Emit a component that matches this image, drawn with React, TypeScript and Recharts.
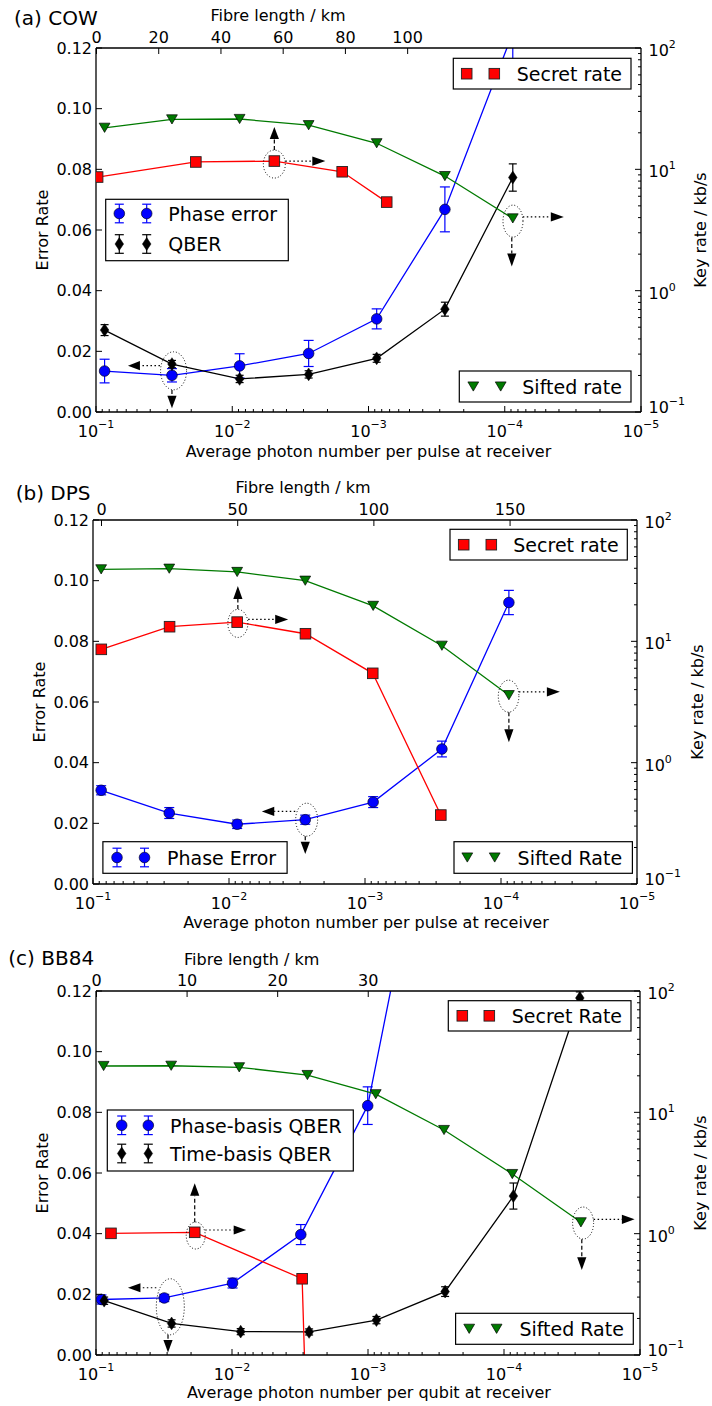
import React from 'react';
import { ComposedChart, Line, XAxis, YAxis, ErrorBar, ReferenceDot } from 'recharts';

const FONT = '"DejaVu Sans", Verdana, sans-serif';

// ---------- Panel (a) COW ----------
const cowMu = [0.0865, 0.0277, 0.00883, 0.00275, 0.000871, 0.000275, 0.0000873];
const cowPhase = [0.0135, 0.0121, 0.0152, 0.0193, 0.0307, 0.0668, 0.125];
const cowPhaseErr = [0.0039, 0.0022, 0.004, 0.0043, 0.0033, 0.0074, 0.012];
const cowQber = [0.027, 0.0158, 0.0109, 0.0124, 0.0177, 0.0339, 0.0773];
const cowQberErr = [0.0018, 0.0012, 0.0012, 0.0012, 0.0013, 0.0023, 0.0045];
const cowSifted = [22.0, 25.8, 26.0, 23.1, 16.4, 8.8, 3.94];
const cowSecretMu = [0.0973, 0.0185, 0.00491, 0.00156, 0.000735];
const cowSecret = [8.64, 11.5, 11.7, 9.55, 5.37];
const cowFibreTicks = [0, 20, 40, 60, 80, 100];

// ---------- Panel (b) DPS ----------
const dpsMu = [0.0871, 0.0275, 0.00871, 0.00275, 0.000871, 0.000272, 0.0000875];
const dpsPhase = [0.0309, 0.0234, 0.0197, 0.0212, 0.027, 0.0445, 0.0928];
const dpsPhaseErr = [0.0015, 0.0018, 0.0014, 0.0015, 0.0018, 0.0026, 0.004];
const dpsSifted = [39.2, 39.7, 37.3, 31.6, 19.6, 9.2, 3.6];
const dpsSecretMu = [0.0869, 0.02735, 0.00871, 0.00274, 0.000877, 0.000277];
const dpsSecret = [8.59, 13.2, 14.4, 11.55, 5.45, 0.37];
const dpsFibreTicks = [0, 50, 100, 150];

// ---------- Panel (c) BB84 ----------
const bbSiftedMu = [0.0879, 0.028, 0.00885, 0.00279, 0.000877, 0.000276, 0.0000869, 0.0000272];
const bbSifted = [24.1, 24.2, 23.5, 20.3, 14.1, 7.15, 3.1, 1.24];
const bbSecretMu = [0.0776, 0.0188, 0.00305, 0.00279];
const bbSecret = [1.006, 1.026, 0.425, 0.0151];
const bbPhaseMu = [0.0912, 0.0315, 0.00991, 0.00312, 0.001005, 0.000316];
const bbPhase = [0.0183, 0.0188, 0.0237, 0.0397, 0.0822, 0.195];
const bbPhaseErr = [0.0015, 0.0012, 0.0016, 0.0033, 0.0062, 0.01];
const bbTimeMu = [0.0871, 0.0278, 0.00863, 0.00271, 0.000867, 0.000271, 0.0000853, 0.0000277];
const bbTime = [0.0179, 0.0104, 0.0077, 0.0076, 0.0115, 0.0209, 0.0524, 0.1177];
const bbTimeErr = [0.0012, 0.0012, 0.001, 0.001, 0.0012, 0.0016, 0.0043, 0.002];
const bbFibreTicks = [0, 10, 20, 30];

// ---------- axes ----------
const errorTicks = [0, 0.02, 0.04, 0.06, 0.08, 0.1, 0.12];
const muDecades = [1e-5, 1e-4, 1e-3, 1e-2, 1e-1];
const rateDecades = [0.1, 1, 10, 100];
const minorMult = [2, 3, 4, 5, 6, 7, 8, 9];

const logTicks = (decades: number[]) => {
  const t: number[] = [];
  decades.forEach((d, i) => {
    t.push(d);
    if (i < decades.length - 1) minorMult.forEach((m) => t.push(m * d));
  });
  return t;
};
const muTicks = logTicks(muDecades);
const rateTicks = logTicks(rateDecades);

const isMajor = (v: number) => Math.abs(Math.log10(v) - Math.round(Math.log10(v))) < 1e-6;
const expStr = (v: number) => {
  const e = Math.round(Math.log10(v));
  return e < 0 ? '\u2212' + Math.abs(e) : String(e);
};

function BottomLogTick(props: any) {
  const { x, y, payload } = props;
  const v = payload.value;
  const major = isMajor(v);
  return (
    <g>
      <line x1={x} x2={x} y1={y} y2={y - (major ? 6 : 3)} stroke="#000" strokeWidth={1} />
      {major && (
        <text x={x} y={y + 24.7} textAnchor="middle" fontSize={16} fontFamily={FONT} fill="#000">
          10<tspan dy={-9} fontSize={11}>{expStr(v)}</tspan>
        </text>
      )}
    </g>
  );
}

function TopTick(props: any) {
  const { x, y, payload } = props;
  return (
    <g>
      <line x1={x} x2={x} y1={y} y2={y + 6} stroke="#000" strokeWidth={1} />
      <text x={x} y={y - 5.5} textAnchor="middle" fontSize={16} fontFamily={FONT} fill="#000">
        {payload.value}
      </text>
    </g>
  );
}

function LeftTick(props: any) {
  const { x, y, payload } = props;
  return (
    <g>
      <line x1={x} x2={x + 6} y1={y} y2={y} stroke="#000" strokeWidth={1} />
      <text x={x - 4} y={y + 5.8} textAnchor="end" fontSize={16} fontFamily={FONT} fill="#000">
        {Number(payload.value).toFixed(2)}
      </text>
    </g>
  );
}

function RightLogTick(props: any) {
  const { x, y, payload } = props;
  const v = payload.value;
  const major = isMajor(v);
  const base = Math.abs(v - 0.1) < 1e-9 ? y + 0.5 : y + 8;
  return (
    <g>
      <line x1={x} x2={x - (major ? 6 : 3)} y1={y} y2={y} stroke="#000" strokeWidth={1} />
      {major && (
        <text x={x + 7.5} y={base} textAnchor="start" fontSize={16} fontFamily={FONT} fill="#000">
          10<tspan dy={-8} fontSize={11}>{expStr(v)}</tspan>
        </text>
      )}
    </g>
  );
}

// ---------- markers ----------
type Kind = 'circle' | 'diamond' | 'square' | 'tri';
function Marker({ kind, cx, cy }: { kind: Kind; cx: number; cy: number }) {
  if (kind === 'circle')
    return <circle cx={cx} cy={cy} r={5.3} fill="#0000ff" stroke="#000022" strokeWidth={0.7} />;
  if (kind === 'diamond')
    return (
      <polygon
        points={`${cx},${cy - 6.4} ${cx + 4.3},${cy} ${cx},${cy + 6.4} ${cx - 4.3},${cy}`}
        fill="#000"
        stroke="#000"
        strokeWidth={0.5}
      />
    );
  if (kind === 'square')
    return (
      <rect x={cx - 5.3} y={cy - 5.3} width={10.6} height={10.6} fill="#ff0000" stroke="#222" strokeWidth={0.9} />
    );
  return (
    <polygon
      points={`${cx - 5.4},${cy - 4.6} ${cx + 5.4},${cy - 4.6} ${cx},${cy + 4.6}`}
      fill="#007a00"
      stroke="#000"
      strokeWidth={0.7}
    />
  );
}

const dotFn = (kind: Kind) => (p: any) => {
  if (p.cx == null || p.cy == null || isNaN(p.cx) || isNaN(p.cy)) return <g key={`e${p.index}`} />;
  return (
    <g key={`d${p.index}`}>
      <Marker kind={kind} cx={p.cx} cy={p.cy} />
    </g>
  );
};

const mk = (xs: number[], ys: number[], es?: number[]) =>
  xs.map((x, i) => ({ x, y: ys[i], e: es ? es[i] : 0 }));

type Series = { key: string; data: any[]; axis: 'L' | 'R'; color: string; kind: Kind; err?: boolean; cap?: number };
type Arrow = { p0: [number, number]; p1: [number, number]; tip: [number, number]; dash: string };
type Anno = { x: number; y: number; axis: 'L' | 'R'; ell: [number, number, number, number]; arrows: Arrow[] };

const DOT = '1.5,2.5';
const DASH = '4,2.5';

function AnnoShape({ cx, cy, a }: { cx: number; cy: number; a: Anno }) {
  const [ex, ey, rx, ry] = a.ell;
  return (
    <g>
      <ellipse cx={cx + ex} cy={cy + ey} rx={rx} ry={ry} fill="none" stroke="#000" strokeWidth={1} strokeDasharray="1,2" />
      {a.arrows.map((ar, i) => {
        const x0 = cx + ar.p0[0], y0 = cy + ar.p0[1];
        const x1 = cx + ar.p1[0], y1 = cy + ar.p1[1];
        const tx = cx + ar.tip[0], ty = cy + ar.tip[1];
        const dx = tx - x1, dy = ty - y1;
        const len = Math.hypot(dx, dy) || 1;
        const px = (-dy / len) * 4.6, py = (dx / len) * 4.6;
        return (
          <g key={i}>
            <line x1={x0} y1={y0} x2={x1} y2={y1} stroke="#000" strokeWidth={1.2} strokeDasharray={ar.dash} />
            <polygon points={`${tx},${ty} ${x1 + px},${y1 + py} ${x1 - px},${y1 - py}`} fill="#000" />
          </g>
        );
      })}
    </g>
  );
}

type PanelCfg = {
  id: string;
  top: number;
  height: number;
  plotTop: number;
  plotBottom: number;
  plotLeft: number;
  plotRight: number;
  fibreDomain: [number, number];
  fibreTicks: number[];
  series: Series[];
  annos: Anno[];
};

const panelA: PanelCfg = {
  id: 'a', top: 0, height: 470, plotTop: 48, plotBottom: 412, plotLeft: 96, plotRight: 641,
  fibreDomain: [-0.16, 175], fibreTicks: cowFibreTicks,
  series: [
    { key: 'phase', data: mk(cowMu, cowPhase, cowPhaseErr), axis: 'L', color: '#0000ff', kind: 'circle', err: true, cap: 5 },
    { key: 'qber', data: mk(cowMu, cowQber, cowQberErr), axis: 'L', color: '#000000', kind: 'diamond', err: true, cap: 4 },
    { key: 'secret', data: mk(cowSecretMu, cowSecret), axis: 'R', color: '#ff0000', kind: 'square' },
    { key: 'sifted', data: mk(cowMu, cowSifted), axis: 'R', color: '#007a00', kind: 'tri' },
  ],
  annos: [
    { x: cowSecretMu[2], y: cowSecret[2], axis: 'R', ell: [0, 3, 11, 14],
      arrows: [
        { p0: [0, -11], p1: [0, -22], tip: [0, -34], dash: DASH },
        { p0: [11, 0], p1: [38, 0], tip: [51, 0], dash: DOT },
      ] },
    { x: cowMu[6], y: cowSifted[6], axis: 'R', ell: [0.2, 2.7, 10, 16],
      arrows: [
        { p0: [10, -1.5], p1: [38, -1.5], tip: [51, -1.5], dash: DOT },
        { p0: [-1, 19], p1: [-1, 35], tip: [-1, 48], dash: DASH },
      ] },
    { x: cowMu[1], y: cowPhase[1], axis: 'L', ell: [1.6, -4.5, 13, 19],
      arrows: [
        { p0: [-12, -9.6], p1: [-32, -9.6], tip: [-44, -9.6], dash: DOT },
        { p0: [0, 14.7], p1: [0, 20.5], tip: [0, 33], dash: DASH },
      ] },
  ],
};

const panelB: PanelCfg = {
  id: 'b', top: 470, height: 470, plotTop: 50, plotBottom: 414, plotLeft: 93, plotRight: 637,
  fibreDomain: [-3.12, 196.6], fibreTicks: dpsFibreTicks,
  series: [
    { key: 'phase', data: mk(dpsMu, dpsPhase, dpsPhaseErr), axis: 'L', color: '#0000ff', kind: 'circle', err: true, cap: 5 },
    { key: 'secret', data: mk(dpsSecretMu, dpsSecret), axis: 'R', color: '#ff0000', kind: 'square' },
    { key: 'sifted', data: mk(dpsMu, dpsSifted), axis: 'R', color: '#007a00', kind: 'tri' },
  ],
  annos: [
    { x: dpsSecretMu[2], y: dpsSecret[2], axis: 'R', ell: [0.7, 1.3, 10, 14],
      arrows: [
        { p0: [0.7, -13], p1: [0.7, -23], tip: [0.7, -36], dash: DASH },
        { p0: [11, -2.7], p1: [38, -2.7], tip: [51, -2.7], dash: DOT },
      ] },
    { x: dpsMu[6], y: dpsSifted[6], axis: 'R', ell: [-0.3, 1, 10.3, 16],
      arrows: [
        { p0: [10, -3.3], p1: [38, -3.3], tip: [51, -3.3], dash: DOT },
        { p0: [0, 17], p1: [0, 34], tip: [0, 47], dash: DASH },
      ] },
    { x: dpsMu[3], y: dpsPhase[3], axis: 'L', ell: [1.4, 0, 11, 16.5],
      arrows: [
        { p0: [-10, -8.3], p1: [-31, -8.3], tip: [-43.4, -8.3], dash: DOT },
        { p0: [0, 16.5], p1: [0, 22], tip: [0, 34.4], dash: DASH },
      ] },
  ],
};

const panelC: PanelCfg = {
  id: 'c', top: 940, height: 462, plotTop: 51, plotBottom: 415, plotLeft: 96, plotRight: 640,
  fibreDomain: [-0.055, 60], fibreTicks: bbFibreTicks,
  series: [
    { key: 'phase', data: mk(bbPhaseMu, bbPhase, bbPhaseErr), axis: 'L', color: '#0000ff', kind: 'circle', err: true, cap: 5 },
    { key: 'time', data: mk(bbTimeMu, bbTime, bbTimeErr), axis: 'L', color: '#000000', kind: 'diamond', err: true, cap: 4 },
    { key: 'secret', data: mk(bbSecretMu, bbSecret), axis: 'R', color: '#ff0000', kind: 'square' },
    { key: 'sifted', data: mk(bbSiftedMu, bbSifted), axis: 'R', color: '#007a00', kind: 'tri' },
  ],
  annos: [
    { x: bbSecretMu[1], y: bbSecret[1], axis: 'R', ell: [1, 3.2, 9.5, 13.5],
      arrows: [
        { p0: [0, -10], p1: [0, -36.5], tip: [0, -49], dash: DASH },
        { p0: [10.5, -2.3], p1: [39, -2.3], tip: [51.5, -2.3], dash: DOT },
      ] },
    { x: bbTimeMu[1], y: bbTime[1], axis: 'L', ell: [-1.3, -16.7, 14, 28],
      arrows: [
        { p0: [-15.3, -35.7], p1: [-31.2, -35.7], tip: [-43.7, -35.7], dash: DOT },
        { p0: [-3.6, 11.3], p1: [-3.6, 16.5], tip: [-3.6, 29], dash: DASH },
      ] },
    { x: bbSiftedMu[7], y: bbSifted[7], axis: 'R', ell: [2.2, 0.7, 10.5, 16],
      arrows: [
        { p0: [12.7, -3], p1: [41, -3], tip: [53.7, -3], dash: DOT },
        { p0: [0.9, 17], p1: [0.9, 35], tip: [0.9, 47.7], dash: DASH },
      ] },
  ],
};

const panels = [panelA, panelB, panelC];
const AXIS_LINE = { stroke: '#000', strokeWidth: 1.3 };

function Panel({ cfg }: { cfg: PanelCfg }) {
  const clipUrl = `url(#errclip-${cfg.id})`;
  return (
    <div className={`panel-${cfg.id}`} style={{ position: 'absolute', left: 0, top: cfg.top, width: 712, height: cfg.height }}>
      <ComposedChart width={712} height={cfg.height} margin={{ top: 0, right: 0, bottom: 0, left: 0 }}>
        <XAxis
          xAxisId="B" type="number" dataKey="x" scale="log" domain={[1e-5, 1e-1]} reversed allowDataOverflow
          ticks={muTicks} interval={0} tick={<BottomLogTick />} tickLine={false} tickSize={0} tickMargin={0}
          height={cfg.height - cfg.plotBottom} axisLine={AXIS_LINE}
        />
        <XAxis
          xAxisId="T" orientation="top" type="number" dataKey="x" domain={cfg.fibreDomain} allowDataOverflow
          ticks={cfg.fibreTicks} interval={0} tick={<TopTick />} tickLine={false} tickSize={0} tickMargin={0}
          height={cfg.plotTop} axisLine={AXIS_LINE}
        />
        <YAxis
          yAxisId="L" type="number" domain={[0, 0.12]} allowDataOverflow ticks={errorTicks} interval={0}
          tick={<LeftTick />} tickLine={false} tickSize={0} tickMargin={0} width={cfg.plotLeft} axisLine={AXIS_LINE}
        />
        <YAxis
          yAxisId="R" orientation="right" type="number" scale="log" domain={[0.1, 100]} allowDataOverflow
          ticks={rateTicks} interval={0} tick={<RightLogTick />} tickLine={false} tickSize={0} tickMargin={0}
          width={712 - cfg.plotRight} axisLine={AXIS_LINE}
        />
        {/* invisible carrier for the fibre-length axis (no marks drawn) */}
        <Line
          xAxisId="T"
          yAxisId="L"
          data={cfg.fibreTicks.map((t) => ({ x: t, y: null }))}
          dataKey="y"
          stroke="none"
          dot={false}
          activeDot={false}
          isAnimationActive={false}
          legendType="none"
        />
        {cfg.series.map((s) => (
          <Line
            key={s.key}
            xAxisId="B"
            yAxisId={s.axis}
            data={s.data}
            dataKey="y"
            type="linear"
            stroke={s.color}
            strokeWidth={1.3}
            dot={dotFn(s.kind)}
            activeDot={false}
            isAnimationActive={false}
            legendType="none"
          >
            {s.err && (
              <ErrorBar
                dataKey="e"
                direction="y"
                width={s.cap}
                stroke={s.color}
                strokeWidth={1.2}
                clipPath={clipUrl}
                isAnimationActive={false}
              />
            )}
          </Line>
        ))}
        {cfg.annos.map((a, i) => (
          <ReferenceDot
            key={`anno${i}`}
            xAxisId="B"
            yAxisId={a.axis}
            x={a.x}
            y={a.y}
            r={1}
            ifOverflow="visible"
            shape={(p: any) => <AnnoShape cx={p.cx} cy={p.cy} a={a} />}
          />
        ))}
      </ComposedChart>
    </div>
  );
}

// ---------- overlay: titles, labels, legends ----------
type LegRow = { cy: number; kind: Kind; label: string; err?: string };
type Leg = { box: [number, number, number, number]; mx: [number, number]; tx: number; rows: LegRow[] };

const legends: Leg[] = [
  { box: [105.7, 199.3, 288.3, 260.7], mx: [119.3, 146.7], tx: 168.3,
    rows: [
      { cy: 213.5, kind: 'circle', label: 'Phase error', err: '#0000ff' },
      { cy: 244, kind: 'diamond', label: 'QBER', err: '#000' },
    ] },
  { box: [453.3, 58.3, 631, 89], mx: [466.7, 494.3], tx: 516.7, rows: [{ cy: 73.7, kind: 'square', label: 'Secret rate' }] },
  { box: [459.3, 371, 631, 402], mx: [473.3, 500.7], tx: 522.3, rows: [{ cy: 386.5, kind: 'tri', label: 'Sifted rate' }] },
  { box: [450, 529.3, 627.3, 560], mx: [463.7, 491.3], tx: 513.3, rows: [{ cy: 544.7, kind: 'square', label: 'Secret rate' }] },
  { box: [102.9, 841.7, 287.1, 873.3], mx: [117, 144.5], tx: 167,
    rows: [{ cy: 857.5, kind: 'circle', label: 'Phase Error', err: '#0000ff' }] },
  { box: [454, 841.7, 632.4, 873.3], mx: [467.3, 494.7], tx: 517.6, rows: [{ cy: 857.5, kind: 'tri', label: 'Sifted Rate' }] },
  { box: [448.3, 1000.7, 631, 1031], mx: [462.3, 489.3], tx: 511.7, rows: [{ cy: 1015.8, kind: 'square', label: 'Secret Rate' }] },
  { box: [107.3, 1110, 353.3, 1171], mx: [121.7, 148.3], tx: 170,
    rows: [
      { cy: 1125.3, kind: 'circle', label: 'Phase-basis QBER', err: '#0000ff' },
      { cy: 1153.5, kind: 'diamond', label: 'Time-basis QBER', err: '#000' },
    ] },
  { box: [455.6, 1313.3, 633.3, 1344.3], mx: [469.2, 496.6], tx: 519.4, rows: [{ cy: 1328.8, kind: 'tri', label: 'Sifted Rate' }] },
];

type Txt = { x: number; y: number; s: string; size: number; anchor?: 'start' | 'middle' | 'end'; rot?: boolean };
const texts: Txt[] = [
  { x: 14, y: 25, s: '(a) COW', size: 20 },
  { x: 278, y: 20.7, s: 'Fibre length / km', size: 16, anchor: 'middle' },
  { x: 368.5, y: 456.7, s: 'Average photon number per pulse at receiver', size: 16, anchor: 'middle' },
  { x: 48, y: 230, s: 'Error Rate', size: 16, anchor: 'middle', rot: true },
  { x: 706, y: 230, s: 'Key rate / kb/s', size: 16, anchor: 'middle', rot: true },
  { x: 15.7, y: 499.5, s: '(b) DPS', size: 20 },
  { x: 303, y: 493.3, s: 'Fibre length / km', size: 16, anchor: 'middle' },
  { x: 366, y: 928.4, s: 'Average photon number per pulse at receiver', size: 16, anchor: 'middle' },
  { x: 45, y: 702, s: 'Error Rate', size: 16, anchor: 'middle', rot: true },
  { x: 702.5, y: 702, s: 'Key rate / kb/s', size: 16, anchor: 'middle', rot: true },
  { x: 8.3, y: 965, s: '(c) BB84', size: 20 },
  { x: 251.7, y: 964.5, s: 'Fibre length / km', size: 16, anchor: 'middle' },
  { x: 369, y: 1398.4, s: 'Average photon number per qubit at receiver', size: 16, anchor: 'middle' },
  { x: 48, y: 1173, s: 'Error Rate', size: 16, anchor: 'middle', rot: true },
  { x: 706, y: 1173, s: 'Key rate / kb/s', size: 16, anchor: 'middle', rot: true },
];

function LegendBox({ leg }: { leg: Leg }) {
  const [x0, y0, x1, y1] = leg.box;
  return (
    <g>
      <rect x={x0} y={y0} width={x1 - x0} height={y1 - y0} fill="#fff" stroke="#000" strokeWidth={1.2} />
      {leg.rows.map((r, i) => (
        <g key={i}>
          {leg.mx.map((mx, j) => (
            <g key={j}>
              {r.err && (
                <g stroke={r.err} strokeWidth={1.2}>
                  <line x1={mx} x2={mx} y1={r.cy - 9.3} y2={r.cy + 9.3} />
                  <line x1={mx - 4.5} x2={mx + 4.5} y1={r.cy - 9.3} y2={r.cy - 9.3} />
                  <line x1={mx - 4.5} x2={mx + 4.5} y1={r.cy + 9.3} y2={r.cy + 9.3} />
                </g>
              )}
              <Marker kind={r.kind} cx={mx} cy={r.cy} />
            </g>
          ))}
          <text x={leg.tx} y={r.cy + 7.3} fontSize={19} fontFamily={FONT} fill="#000">
            {r.label}
          </text>
        </g>
      ))}
    </g>
  );
}

function Overlay() {
  return (
    <svg width={712} height={1406} style={{ position: 'absolute', left: 0, top: 0, pointerEvents: 'none' }}>
      <defs>
        {panels.map((p) => (
          <clipPath key={p.id} id={`errclip-${p.id}`} clipPathUnits="userSpaceOnUse">
            <rect x={p.plotLeft} y={p.plotTop} width={p.plotRight - p.plotLeft} height={p.plotBottom - p.plotTop} />
          </clipPath>
        ))}
      </defs>
      {texts.map((t, i) => (
        <text
          key={i}
          x={t.x}
          y={t.y}
          fontSize={t.size}
          fontFamily={FONT}
          fill="#000"
          textAnchor={t.anchor || 'start'}
          transform={t.rot ? `rotate(-90 ${t.x} ${t.y})` : undefined}
        >
          {t.s}
        </text>
      ))}
      {legends.map((l, i) => (
        <LegendBox key={i} leg={l} />
      ))}
    </svg>
  );
}

const clipCss = panels
  .map((p) => `.panel-${p.id} .recharts-errorBars, .panel-${p.id} .recharts-errorBar { clip-path: url(#errclip-${p.id}); }`)
  .join('\n');

export default function App() {
  return (
    <div style={{ position: 'absolute', left: 0, top: 0, width: 712, height: 1406, background: '#fff', overflow: 'hidden' }}>
      <style>{clipCss}</style>
      <Panel cfg={panelA} />
      <Panel cfg={panelB} />
      <Panel cfg={panelC} />
      <Overlay />
    </div>
  );
}
